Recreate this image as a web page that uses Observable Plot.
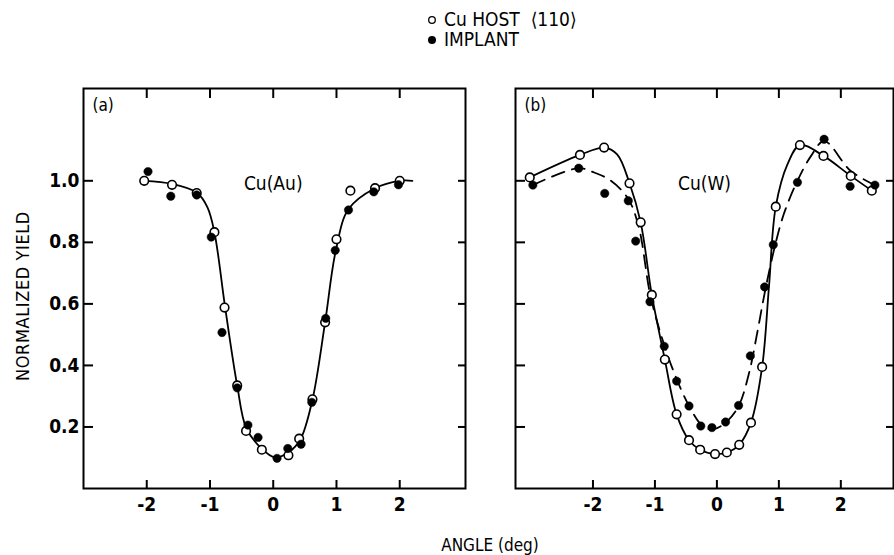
<!DOCTYPE html>
<html><head><meta charset="utf-8">
<script src="https://cdn.jsdelivr.net/npm/d3@7"></script>
<script src="https://cdn.jsdelivr.net/npm/@observablehq/plot@0.6"></script>
<style>
body{margin:0;background:#fff;}
#wrap{position:relative;width:894px;height:555px;overflow:hidden;background:#fff;color:#000;
  font-family:"Liberation Sans Narrow","DejaVu Sans Condensed","DejaVu Sans",sans-serif;}
.abs{position:absolute;white-space:nowrap;}
</style></head><body><div id="wrap"></div>
<script>
// ---- tick values ----
const xTicks = [-2, -1, 0, 1, 2];
const yTicks = [0.2, 0.4, 0.6, 0.8, 1.0];

// ---- panel (a) Cu(Au) ----
const hostA_x = [-2.04, -1.60, -1.21, -0.93, -0.77, -0.57, -0.43, -0.18, 0.24, 0.41, 0.62, 0.82, 1.00, 1.22, 1.61, 2.00];
const hostA_y = [1.00, 0.987, 0.96, 0.833, 0.588, 0.335, 0.187, 0.126, 0.108, 0.162, 0.29, 0.54, 0.81, 0.968, 0.976, 1.00];
const implA_x = [-1.98, -1.62, -1.21, -0.98, -0.81, -0.57, -0.40, -0.24, 0.06, 0.23, 0.44, 0.61, 0.83, 0.98, 1.19, 1.59, 1.98];
const implA_y = [1.03, 0.95, 0.954, 0.817, 0.507, 0.327, 0.206, 0.166, 0.098, 0.13, 0.144, 0.28, 0.553, 0.774, 0.905, 0.964, 0.987];
const fitA_x = [-2.04, -1.60, -1.21, -1.04, -0.93, -0.76, -0.57, -0.43, -0.20, 0.03, 0.24, 0.43, 0.62, 0.82, 0.99, 1.19, 1.61, 2.00, 2.20];
const fitA_y = [1.00, 0.99, 0.962, 0.914, 0.833, 0.588, 0.335, 0.198, 0.133, 0.101, 0.117, 0.160, 0.289, 0.540, 0.774, 0.908, 0.976, 1.00, 1.00];

// ---- panel (b) Cu(W) ----
const hostB_x = [-3.02, -2.21, -1.82, -1.41, -1.23, -1.05, -0.84, -0.65, -0.45, -0.27, -0.03, 0.16, 0.36, 0.55, 0.73, 0.95, 1.34, 1.72, 2.16, 2.50];
const hostB_y = [1.011, 1.084, 1.108, 0.992, 0.865, 0.629, 0.419, 0.241, 0.157, 0.126, 0.112, 0.117, 0.142, 0.214, 0.395, 0.916, 1.116, 1.081, 1.016, 0.968];
const implB_x = [-2.97, -2.23, -1.81, -1.43, -1.31, -1.08, -0.85, -0.65, -0.45, -0.26, -0.08, 0.14, 0.35, 0.54, 0.77, 0.91, 1.30, 1.73, 2.15, 2.55];
const implB_y = [0.986, 1.041, 0.959, 0.935, 0.804, 0.607, 0.462, 0.349, 0.268, 0.203, 0.198, 0.216, 0.27, 0.431, 0.655, 0.792, 0.995, 1.135, 0.982, 0.986];
const fitHostB_x = [-3.02, -2.21, -1.82, -1.61, -1.41, -1.23, -1.05, -0.84, -0.65, -0.45, -0.27, -0.03, 0.16, 0.36, 0.55, 0.73, 0.84, 0.95, 1.14, 1.34, 1.72, 2.16, 2.50];
const fitHostB_y = [1.011, 1.084, 1.108, 1.086, 0.992, 0.865, 0.629, 0.419, 0.241, 0.157, 0.126, 0.112, 0.117, 0.142, 0.214, 0.395, 0.655, 0.916, 1.054, 1.116, 1.081, 1.016, 0.968];
const fitImplB_x = [-2.97, -2.23, -1.98, -1.71, -1.43, -1.26, -1.08, -0.91, -0.69, -0.42, -0.23, -0.07, 0.14, 0.35, 0.52, 0.65, 0.77, 0.92, 1.08, 1.30, 1.52, 1.73, 2.16, 2.55];
const fitImplB_y = [0.986, 1.041, 1.027, 1.0, 0.941, 0.849, 0.634, 0.505, 0.376, 0.257, 0.203, 0.192, 0.214, 0.268, 0.376, 0.505, 0.634, 0.774, 0.892, 1.0, 1.081, 1.129, 1.032, 0.986];

// ---- labels ----
const panelTags = ["(a)", "(b)"];
const sampleNames = ["Cu(Au)", "Cu(W)"];
const sampleLabelX = [0, -0.2];
const sampleLabelY = [0.99, 0.99];
const legendLabels = ["Cu HOST\u00A0\u00A0\u27E8110\u27E9", "IMPLANT"];
const yTitle = "NORMALIZED YIELD";
const xTitle = "ANGLE (deg)";

const zip = (xs, ys) => xs.map((x, i) => ({x, y: ys[i]}));
const FONT = '"Liberation Sans Narrow","DejaVu Sans Condensed","DejaVu Sans",sans-serif';

function panel({width, marginLeft, marginRight, xDomain, host, impl, fits, tag, name, nx, ny}) {
  const fitMarks = fits.map(f => Plot.line(f.data, {x: "x", y: "y", curve: "catmull-rom", stroke: "black",
    strokeWidth: 1.8, strokeDasharray: f.dash ? "13,8" : null}));
  return Plot.plot({
    width, height: 520, marginLeft, marginRight, marginTop: 88, marginBottom: 32,
    x: {domain: xDomain},
    y: {domain: [0, 1.3]},
    style: {fontFamily: FONT, fontSize: "19px", fontWeight: "bold", background: "transparent", overflow: "visible"},
    marks: [
      Plot.frame({stroke: "black", strokeWidth: 2}),
      Plot.axisX(xTicks, {anchor: "bottom", tickSize: 0, tickPadding: 9, tickFormat: d => String(d), label: null}),
      Plot.axisX(xTicks, {anchor: "bottom", tickSize: -8, strokeWidth: 2, fill: "none", label: null}),
      Plot.axisX(xTicks, {anchor: "top", tickSize: -9, strokeWidth: 2, fill: "none", label: null}),
      Plot.axisY(yTicks, {anchor: "left", tickSize: -10, strokeWidth: 2, fill: "none", label: null}),
      Plot.axisY(yTicks, {anchor: "right", tickSize: -8, strokeWidth: 2, fill: "none", label: null}),
      ...(marginLeft > 40 ? [Plot.axisY(yTicks, {anchor: "left", tickSize: 0, tickPadding: 4, tickFormat: d => d.toFixed(1), label: null})] : []),
      ...fitMarks,
      Plot.dot(host, {x: "x", y: "y", r: 4.3, fill: "white", stroke: "black", strokeWidth: 1.6}),
      Plot.dot(impl, {x: "x", y: "y", r: 4.2, fill: "black", stroke: "black", strokeWidth: 0.5}),
      Plot.text([tag], {frameAnchor: "top-left", dx: 9, dy: 10, textAnchor: "start", lineAnchor: "top", fontSize: 17, fontWeight: "normal"}),
      Plot.text([{x: nx, y: ny, t: name}], {x: "x", y: "y", text: "t", fontSize: 19, fontWeight: "normal"})
    ]
  });
}

const wrap = document.getElementById("wrap");

const pa = panel({width: 480, marginLeft: 83, marginRight: 15, xDomain: [-3, 3.04],
  host: zip(hostA_x, hostA_y), impl: zip(implA_x, implA_y),
  fits: [{data: zip(fitA_x, fitA_y), dash: false}],
  tag: panelTags[0], name: sampleNames[0], nx: sampleLabelX[0], ny: sampleLabelY[0]});
pa.style.position = "absolute"; pa.style.left = "0px"; pa.style.top = "0px";
wrap.appendChild(pa);

const pb = panel({width: 394, marginLeft: 15, marginRight: 1, xDomain: [-3.25, 2.85],
  host: zip(hostB_x, hostB_y), impl: zip(implB_x, implB_y),
  fits: [{data: zip(fitHostB_x, fitHostB_y), dash: false}, {data: zip(fitImplB_x, fitImplB_y), dash: true}],
  tag: panelTags[1], name: sampleNames[1], nx: sampleLabelX[1], ny: sampleLabelY[1]});
pb.style.position = "absolute"; pb.style.left = "500px"; pb.style.top = "0px";
wrap.appendChild(pb);

// Legend
const leg = document.createElement("div");
leg.className = "abs";
leg.style.cssText = "left:426px;top:9px;font-size:19px;line-height:20px;";
leg.innerHTML =
  `<div><svg width="12" height="12" style="vertical-align:0px;margin-right:6px"><circle cx="6" cy="6" r="3.3" fill="white" stroke="black" stroke-width="1.3"/></svg>${legendLabels[0]}</div>` +
  `<div><svg width="12" height="12" style="vertical-align:0px;margin-right:6px"><circle cx="6" cy="6" r="4" fill="black"/></svg>${legendLabels[1]}</div>`;
wrap.appendChild(leg);

// Axis titles
const yt = document.createElement("div");
yt.className = "abs";
yt.textContent = yTitle;
yt.style.cssText = "left:22px;top:296px;font-size:18px;letter-spacing:0.6px;transform:translate(-50%,-50%) rotate(-90deg);";
wrap.appendChild(yt);

const xt = document.createElement("div");
xt.className = "abs";
xt.textContent = xTitle;
xt.style.cssText = "left:490px;top:545px;font-size:17px;transform:translate(-50%,-50%);";
wrap.appendChild(xt);
</script>
</body></html>
